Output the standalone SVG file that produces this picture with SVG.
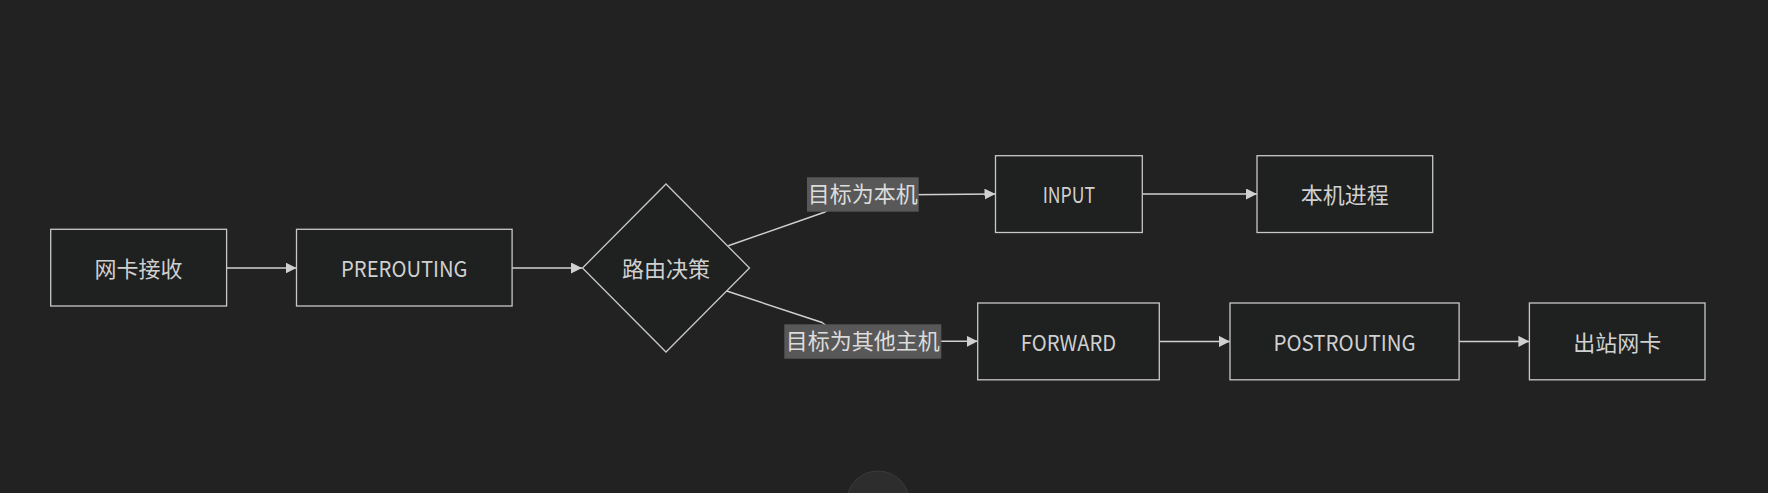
<svg xmlns="http://www.w3.org/2000/svg" width="1768" height="493" viewBox="0 0 1768 493">
<defs>
<style>
.node rect, .node polygon { fill: #1f2020; stroke: #c8c8c8; stroke-width: 1.3; }
.node text { fill: #d0d0d0; font-family: "Noto Sans CJK SC", "Noto Sans", sans-serif; font-size: 22px; text-anchor: middle; }
.edge { fill: none; stroke: #d0d0d0; stroke-width: 1.5; }
.lbl rect { fill: #585858; }
.lbl text { fill: #dcdcdc; font-family: "Noto Sans CJK SC", "Noto Sans", sans-serif; font-size: 22px; text-anchor: middle; }
</style>
<marker id="arrow" markerUnits="userSpaceOnUse" viewBox="0 0 10 10" refX="10" refY="5" markerWidth="11" markerHeight="11" orient="auto">
<path d="M0,0 L10,5 L0,10 z" fill="#d0d0d0"/>
</marker>
</defs>
<rect x="0" y="0" width="1768" height="493" fill="#222222"/>

<g id="connectors">
<path class="edge" d="M226.6,268 L296.5,268" marker-end="url(#arrow)"/>
<path class="edge" d="M512,268 L582,268" marker-end="url(#arrow)"/>
<path class="edge" d="M728.3,245.7 L825,212 Q848,195.5 880,195 L995.5,194" marker-end="url(#arrow)"/>
<path class="edge" d="M726.7,291 L822,322.5 Q846,341.3 880,341.3 L977.7,341.3" marker-end="url(#arrow)"/>
<path class="edge" d="M1142.3,194 L1257,194" marker-end="url(#arrow)"/>
<path class="edge" d="M1159.5,341.4 L1230,341.4" marker-end="url(#arrow)"/>
<path class="edge" d="M1459,341.4 L1529.4,341.4" marker-end="url(#arrow)"/>
</g>

<g id="edge-labels">
<g class="lbl" id="label-local">
<rect x="807" y="177.3" width="111.7" height="34.4"/>
<text x="862.8" y="202">目标为本机</text>
</g>
<g class="lbl" id="label-other">
<rect x="784.3" y="324.3" width="157" height="34.4"/>
<text x="862.8" y="349">目标为其他主机</text>
</g>
</g>

<g class="node" id="n-nic-in">
<rect x="50.7" y="229.3" width="175.9" height="76.7"/>
<text x="138.6" y="277">网卡接收</text>
</g>
<g class="node" id="n-prerouting">
<rect x="296.5" y="229.3" width="215.6" height="76.7"/>
<text x="404.3" y="277" textLength="126.5" lengthAdjust="spacingAndGlyphs">PREROUTING</text>
</g>
<g class="node" id="n-route">
<polygon points="582.5,268 666,184 749.5,268 666,352"/>
<text x="666" y="277">路由决策</text>
</g>
<g class="node" id="n-input">
<rect x="995.5" y="155.7" width="146.8" height="76.8"/>
<text x="1068.9" y="203" textLength="52.5" lengthAdjust="spacingAndGlyphs">INPUT</text>
</g>
<g class="node" id="n-local-proc">
<rect x="1257" y="155.7" width="175.7" height="76.8"/>
<text x="1344.8" y="203">本机进程</text>
</g>
<g class="node" id="n-forward">
<rect x="977.7" y="303" width="181.6" height="76.8"/>
<text x="1068.5" y="350.5" textLength="95.5" lengthAdjust="spacingAndGlyphs">FORWARD</text>
</g>
<g class="node" id="n-postrouting">
<rect x="1230" y="303" width="229.1" height="76.8"/>
<text x="1344.5" y="350.5" textLength="142" lengthAdjust="spacingAndGlyphs">POSTROUTING</text>
</g>
<g class="node" id="n-nic-out">
<rect x="1529.4" y="303" width="175.6" height="76.8"/>
<text x="1617.2" y="350.5">出站网卡</text>
</g>

<circle cx="878" cy="502.5" r="31.5" fill="#2d2d2d" stroke="#3a3a3a" stroke-width="1"/>
</svg>
